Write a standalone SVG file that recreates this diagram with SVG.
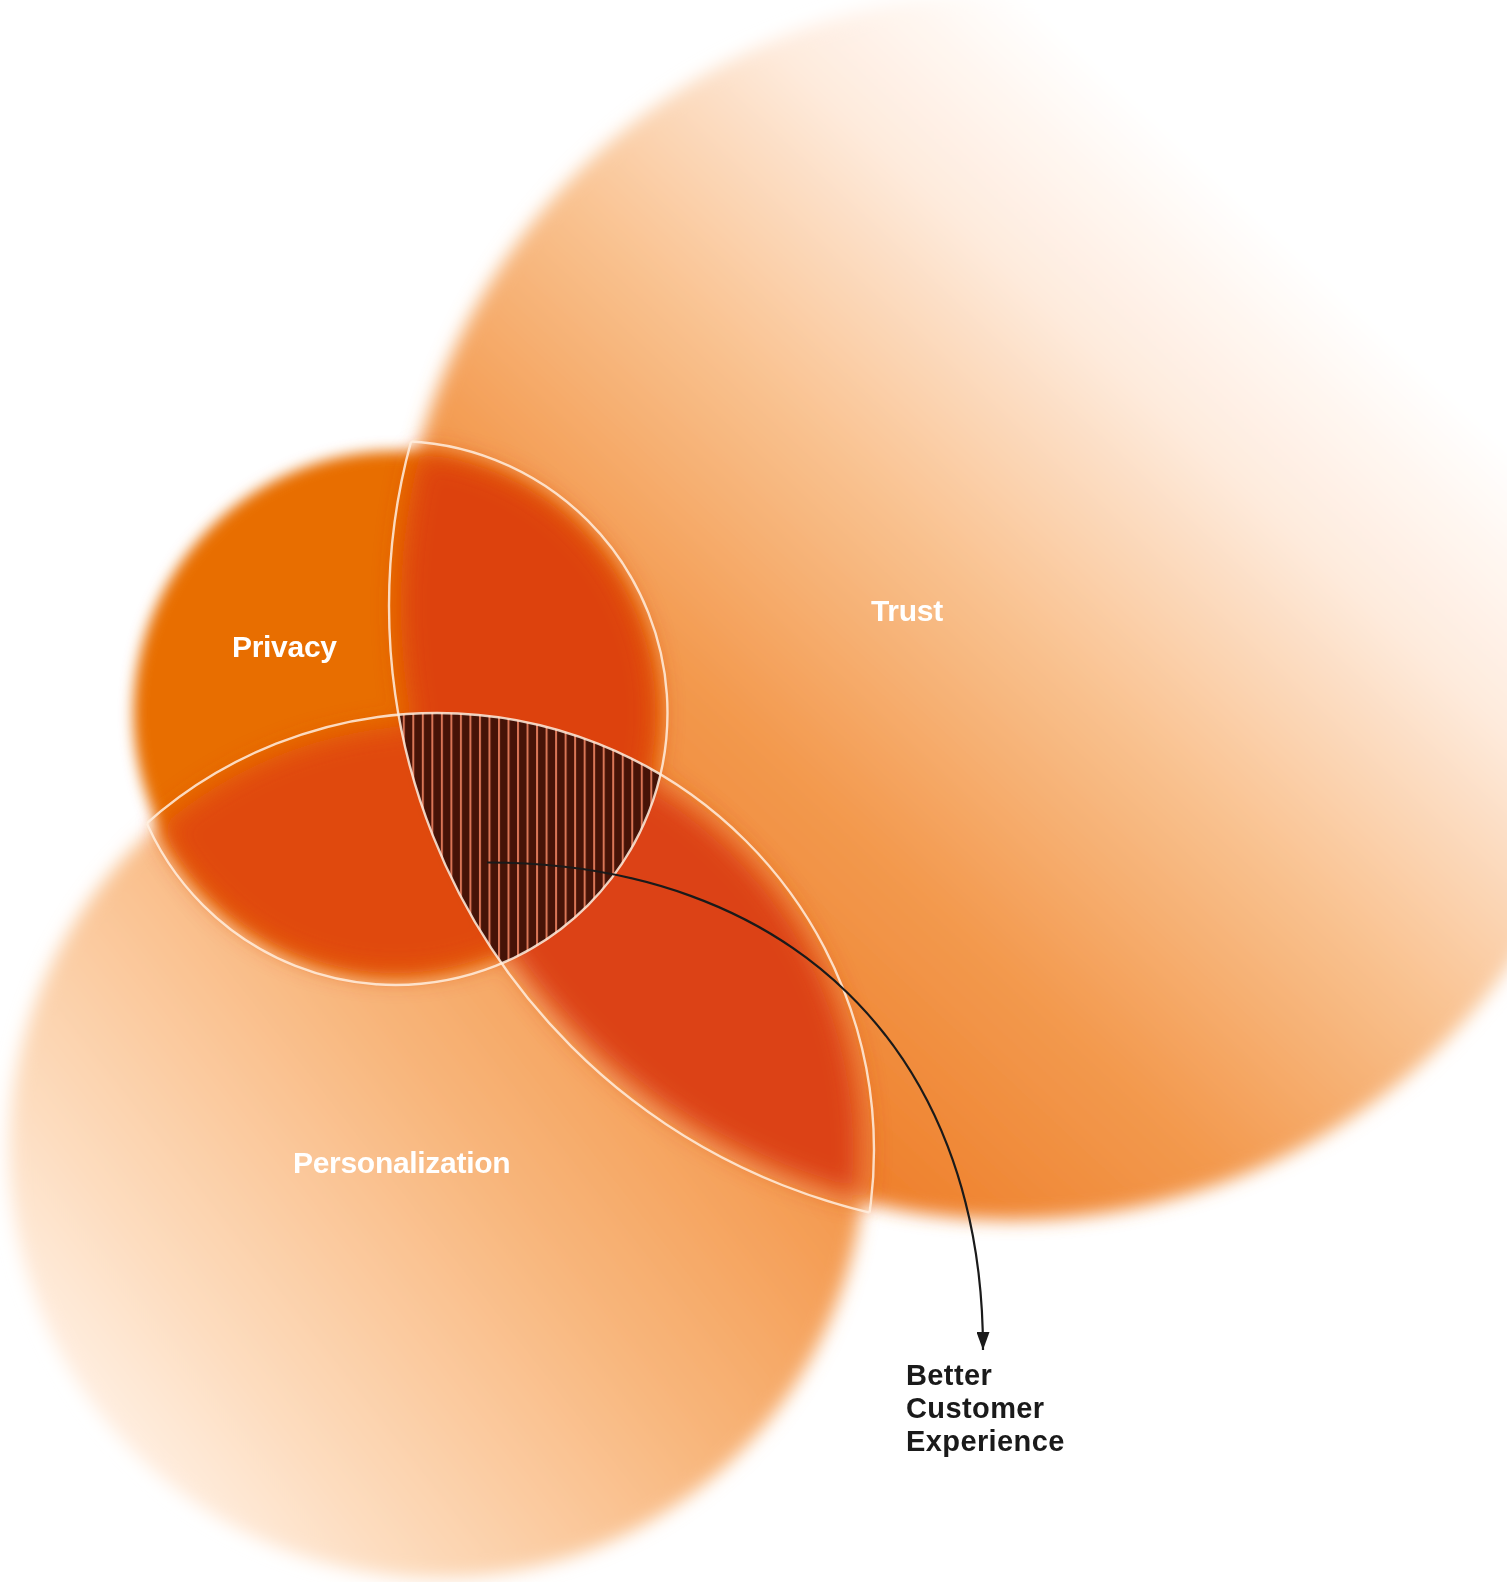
<svg xmlns="http://www.w3.org/2000/svg" width="1507" height="1582" viewBox="0 0 1507 1582">
<defs>
<style>
.lbl{font-family:"Liberation Sans",Arial,Helvetica,sans-serif;font-weight:700;font-size:30px;fill:#ffffff;letter-spacing:-0.3px}
.dark{fill:#1a1a1a;font-size:29px;letter-spacing:0.4px}
.ring{fill:none;stroke:#FFEEDF;stroke-opacity:0.85;stroke-width:2.4}
.conn{fill:none;stroke:#1a1a1a;stroke-width:2.2}
</style>
<linearGradient id="gT" gradientUnits="userSpaceOnUse" x1="650" y1="1050" x2="1350" y2="300">
<stop offset="0" stop-color="#EE7B25"/>
<stop offset="0.3" stop-color="#F39A4F"/>
<stop offset="0.55" stop-color="#F9C290"/>
<stop offset="0.8" stop-color="#FEEBDD"/>
<stop offset="1" stop-color="#FFFFFF"/>
</linearGradient>
<linearGradient id="gS" gradientUnits="userSpaceOnUse" x1="820" y1="950" x2="120" y2="1500">
<stop offset="0" stop-color="#F18A36"/>
<stop offset="0.45" stop-color="#F8B67C"/>
<stop offset="0.8" stop-color="#FDDCBE"/>
<stop offset="1" stop-color="#FFF3EA"/>
</linearGradient>
<filter id="fBlob" filterUnits="userSpaceOnUse" x="-100" y="-100" width="1707" height="1782"><feGaussianBlur stdDeviation="9"/></filter>
<filter id="fPriv" filterUnits="userSpaceOnUse" x="-100" y="-100" width="1707" height="1782"><feGaussianBlur stdDeviation="7"/></filter>
<filter id="fRed" filterUnits="userSpaceOnUse" x="-100" y="-100" width="1707" height="1782"><feGaussianBlur stdDeviation="13"/></filter>
<clipPath id="cP"><circle cx="395.5" cy="713" r="272"/></clipPath>
<clipPath id="cT"><circle cx="1012" cy="606" r="623"/></clipPath>
<clipPath id="cS"><circle cx="437" cy="1150" r="437"/></clipPath>
<clipPath id="cPi"><circle cx="395.5" cy="713" r="260"/></clipPath>
<clipPath id="cTi"><circle cx="1012" cy="606" r="611"/></clipPath>
<clipPath id="cTS"><circle cx="1012" cy="606" r="623"/><circle cx="437" cy="1150" r="437"/></clipPath>
<clipPath id="cPS"><circle cx="395.5" cy="713" r="272"/><circle cx="437" cy="1150" r="437"/></clipPath>
<clipPath id="cPT"><circle cx="395.5" cy="713" r="272"/><circle cx="1012" cy="606" r="623"/></clipPath>
<pattern id="hatch" patternUnits="userSpaceOnUse" x="412.3" y="0" width="9.52" height="20">
<rect width="9.52" height="20" fill="#461307"/>
<rect width="2" height="20" fill="#D97556"/>
</pattern>
<marker id="arr" markerUnits="userSpaceOnUse" viewBox="0 0 18 13" refX="18" refY="6.5" markerWidth="18" markerHeight="13" orient="auto">
<path d="M0,0 L18,6.5 L0,13 Z" fill="#1a1a1a"/>
</marker>
</defs>
<rect width="1507" height="1582" fill="#ffffff"/>

<g id="trust" filter="url(#fBlob)">
<circle cx="1012" cy="606" r="614" fill="url(#gT)"/>
</g>
<g id="personalization" filter="url(#fBlob)">
<circle cx="437" cy="1150" r="428" fill="url(#gS)"/>
</g>
<g id="privacy" filter="url(#fPriv)">
<circle cx="395.5" cy="713" r="262" fill="#E86E04"/>
</g>
<g id="overlaps" filter="url(#fRed)">
<g clip-path="url(#cPi)"><circle cx="1012" cy="606" r="611" fill="#DD4211"/></g>
<g clip-path="url(#cPi)"><circle cx="437" cy="1150" r="425" fill="#E04A0D"/></g>
<g clip-path="url(#cTi)"><circle cx="437" cy="1150" r="425" fill="#DC4212"/></g>
</g>
<g id="core" clip-path="url(#cP)">
<g clip-path="url(#cT)"><circle cx="437" cy="1150" r="437" fill="url(#hatch)"/></g>
</g>
<g id="outlines">
<g clip-path="url(#cTS)"><circle class="ring" cx="395.5" cy="713" r="272"/></g>
<g clip-path="url(#cPS)"><circle class="ring" cx="1012" cy="606" r="623"/></g>
<g clip-path="url(#cPT)"><circle class="ring" cx="437" cy="1150" r="437"/></g>
</g>
<g id="connectors">
<path class="conn" d="M487,862.5 C786,862 983,1047 983,1350" marker-end="url(#arr)"/>
</g>
<g id="labels">
<text class="lbl" x="232" y="657">Privacy</text>
<text class="lbl" x="871" y="621">Trust</text>
<text class="lbl" x="293" y="1173">Personalization</text>
</g>
<g id="result">
<text class="lbl dark" x="906" y="1385">Better</text>
<text class="lbl dark" x="906" y="1418">Customer</text>
<text class="lbl dark" x="906" y="1451">Experience</text>
</g>
</svg>
